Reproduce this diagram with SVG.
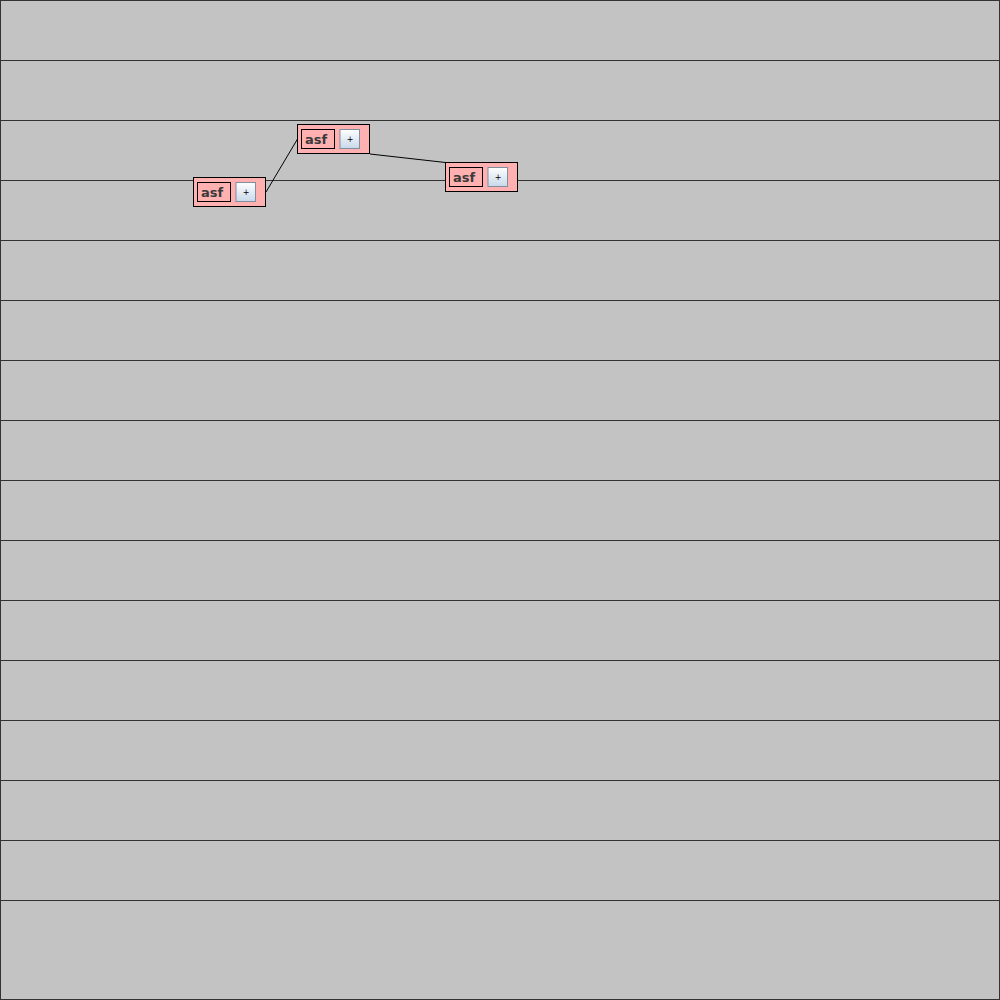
<svg xmlns="http://www.w3.org/2000/svg" width="1000" height="1000" viewBox="0 0 1000 1000">
<defs>
<linearGradient id="btn" x1="0" y1="0" x2="0" y2="1">
<stop offset="0" stop-color="#ffffff"/>
<stop offset="1" stop-color="#c8d8ea"/>
</linearGradient>
<style>
.lane{stroke:#333;stroke-width:1}
.node{fill:#ffb0b0;stroke:#000;stroke-width:1}
.lbl{fill:#ffb0b0;stroke:#000;stroke-width:1}
.btn{fill:url(#btn);stroke:#7f8fa0;stroke-width:1}
.t{font-family:"DejaVu Sans",sans-serif;font-weight:bold;font-size:13px;fill:#3a3a3a}
.p{font-family:"DejaVu Sans",sans-serif;font-size:8px;fill:#000;text-anchor:middle}
.edge{stroke:#000;stroke-width:1;fill:none}
</style>
</defs>
<rect x="0.5" y="0.5" width="999" height="999" fill="#c3c3c3" stroke="#333"/>
<g id="lanes">
<line class="lane" x1="0" y1="60.5" x2="1000" y2="60.5"/>
<line class="lane" x1="0" y1="120.5" x2="1000" y2="120.5"/>
<line class="lane" x1="0" y1="180.5" x2="1000" y2="180.5"/>
<line class="lane" x1="0" y1="240.5" x2="1000" y2="240.5"/>
<line class="lane" x1="0" y1="300.5" x2="1000" y2="300.5"/>
<line class="lane" x1="0" y1="360.5" x2="1000" y2="360.5"/>
<line class="lane" x1="0" y1="420.5" x2="1000" y2="420.5"/>
<line class="lane" x1="0" y1="480.5" x2="1000" y2="480.5"/>
<line class="lane" x1="0" y1="540.5" x2="1000" y2="540.5"/>
<line class="lane" x1="0" y1="600.5" x2="1000" y2="600.5"/>
<line class="lane" x1="0" y1="660.5" x2="1000" y2="660.5"/>
<line class="lane" x1="0" y1="720.5" x2="1000" y2="720.5"/>
<line class="lane" x1="0" y1="780.5" x2="1000" y2="780.5"/>
<line class="lane" x1="0" y1="840.5" x2="1000" y2="840.5"/>
<line class="lane" x1="0" y1="900.5" x2="1000" y2="900.5"/>
</g>
<g id="connectors">
<line class="edge" x1="266" y1="192" x2="297.5" y2="139"/>
<line class="edge" x1="370" y1="154" x2="445.5" y2="162.5"/>
</g>
<g id="node1">
<rect class="node" x="193.5" y="177.5" width="72" height="29"/>
<rect class="lbl" x="197.5" y="182.5" width="33" height="19"/>
<text class="t" x="201" y="197">asf</text>
<rect class="btn" x="236" y="182.5" width="19.5" height="19"/>
<text class="p" x="246" y="194.5">+</text>
</g>
<g id="node2">
<rect class="node" x="297.5" y="124.5" width="72" height="29"/>
<rect class="lbl" x="301.5" y="129.5" width="33" height="19"/>
<text class="t" x="305" y="144">asf</text>
<rect class="btn" x="340" y="129.5" width="19.5" height="19"/>
<text class="p" x="350" y="141.5">+</text>
</g>
<g id="node3">
<rect class="node" x="445.5" y="162.5" width="72" height="29"/>
<rect class="lbl" x="449.5" y="167.5" width="33" height="19"/>
<text class="t" x="453" y="182">asf</text>
<rect class="btn" x="488" y="167.5" width="19.5" height="19"/>
<text class="p" x="498" y="179.5">+</text>
</g>
</svg>
